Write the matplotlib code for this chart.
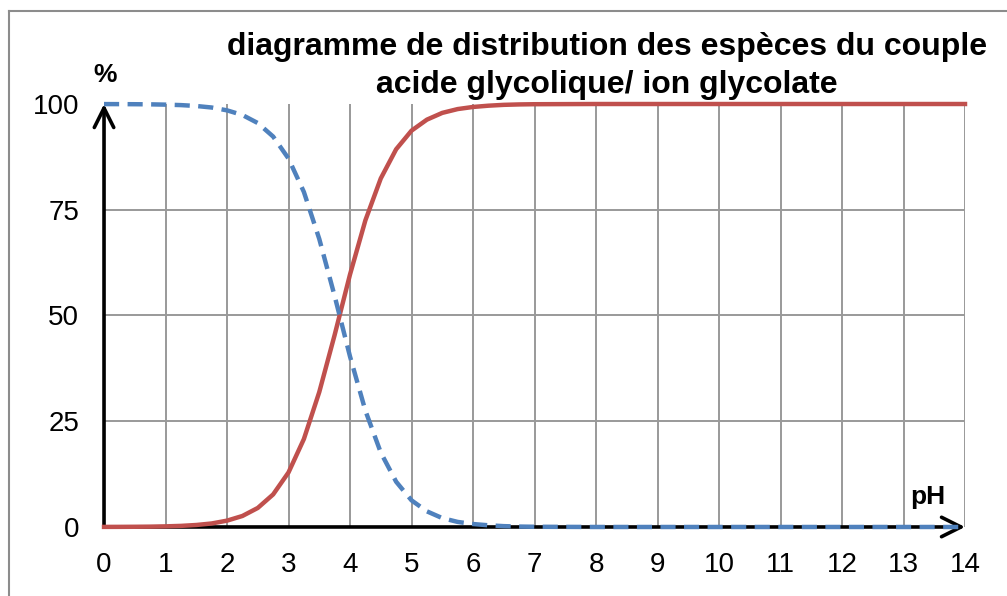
import matplotlib
matplotlib.use('Agg')
import matplotlib.pyplot as plt
from matplotlib.lines import Line2D

plt.rcParams['font.family'] = ['Liberation Sans', 'DejaVu Sans']

# pH values and species percentages
ph = [0, 0.25, 0.5, 0.75, 1, 1.25, 1.5, 1.75, 2, 2.25, 2.5, 2.75, 3, 3.25, 3.5,
      3.75, 4, 4.25, 4.5, 4.75, 5, 5.25, 5.5, 5.75, 6, 6.25, 6.5, 6.75, 7,
      8, 9, 10, 11, 12, 13, 14]
glycolate = [0.02, 0.03, 0.05, 0.08, 0.15, 0.26, 0.47, 0.83, 1.5, 2.6, 4.5, 7.7, 12.9,
             20.8, 31.9, 45.4, 59.7, 72.5, 82.4, 89.3, 93.7, 96.3, 97.9, 98.8, 99.3,
             99.6, 99.8, 99.9, 99.95, 100, 100, 100, 100, 100, 100, 100]
acide = [99.98, 99.97, 99.95, 99.92, 99.85, 99.74, 99.53, 99.17, 98.5, 97.4, 95.5,
         92.3, 87.1, 79.2, 68.1, 54.6, 40.3, 27.5, 17.6, 10.7, 6.3, 3.7, 2.1, 1.2,
         0.7, 0.4, 0.2, 0.1, 0.05, 0, 0, 0, 0, 0, 0, 0]

x_ticks = list(range(0, 15))
y_ticks = [0, 25, 50, 75, 100]

red = '#C0504D'
blue = '#4F81BD'

fig = plt.figure(figsize=(10.07, 5.96), dpi=100)
ax = fig.add_axes([0.1033, 0.1158, 0.855, 0.7097])

ax.set_xlim(0, 14)
ax.set_ylim(0, 100)

# grid
for xv in x_ticks[1:]:
    ax.axvline(xv, color='#999999', lw=1.4, zorder=1)
for yv in y_ticks[1:-1]:
    ax.axhline(yv, color='#999999', lw=1.4, zorder=1)

# axes with arrows
ax.annotate('', xy=(0, 100), xytext=(0, 0), annotation_clip=False, zorder=2,
            arrowprops=dict(arrowstyle='->,head_length=0.7,head_width=0.35',
                            mutation_scale=20, lw=2.6, color='black',
                            shrinkA=0, shrinkB=0))
ax.annotate('', xy=(14, 0), xytext=(0, 0), annotation_clip=False, zorder=2,
            arrowprops=dict(arrowstyle='->,head_length=0.7,head_width=0.35',
                            mutation_scale=20, lw=2.6, color='black',
                            shrinkA=0, shrinkB=0))

ax.plot(ph, glycolate, color=red, lw=3.2, zorder=4, clip_on=False,
        solid_joinstyle='round')
ax.plot(ph, acide, color=blue, lw=3.2, zorder=4, clip_on=False,
        dashes=(3.4, 1.9))

for s in ax.spines.values():
    s.set_visible(False)

ax.set_xticks(x_ticks)
ax.set_yticks(y_ticks)
ax.tick_params(length=0, labelsize=20)
ax.tick_params(axis='x', pad=18)
ax.tick_params(axis='y', pad=18)

fig.text(0.104, 0.874, '%', fontsize=19, fontweight='bold', ha='center', va='center')
fig.text(0.9215, 0.166, 'pH', fontsize=19, fontweight='bold', ha='center', va='center')

fig.text(0.603, 0.921, 'diagramme de distribution des espèces du couple',
         fontsize=23, fontweight='bold', ha='center', va='center')
fig.text(0.603, 0.857, 'acide glycolique/ ion glycolate',
         fontsize=23, fontweight='bold', ha='center', va='center')

# outer frame
fig.add_artist(Line2D([9 / 1007, 9 / 1007], [0, 1 - 11 / 596], color='#8c8c8c', lw=1.5))
fig.add_artist(Line2D([9 / 1007, 1], [1 - 11 / 596, 1 - 11 / 596], color='#8c8c8c', lw=1.5))

fig.savefig('out.png', dpi=100)
